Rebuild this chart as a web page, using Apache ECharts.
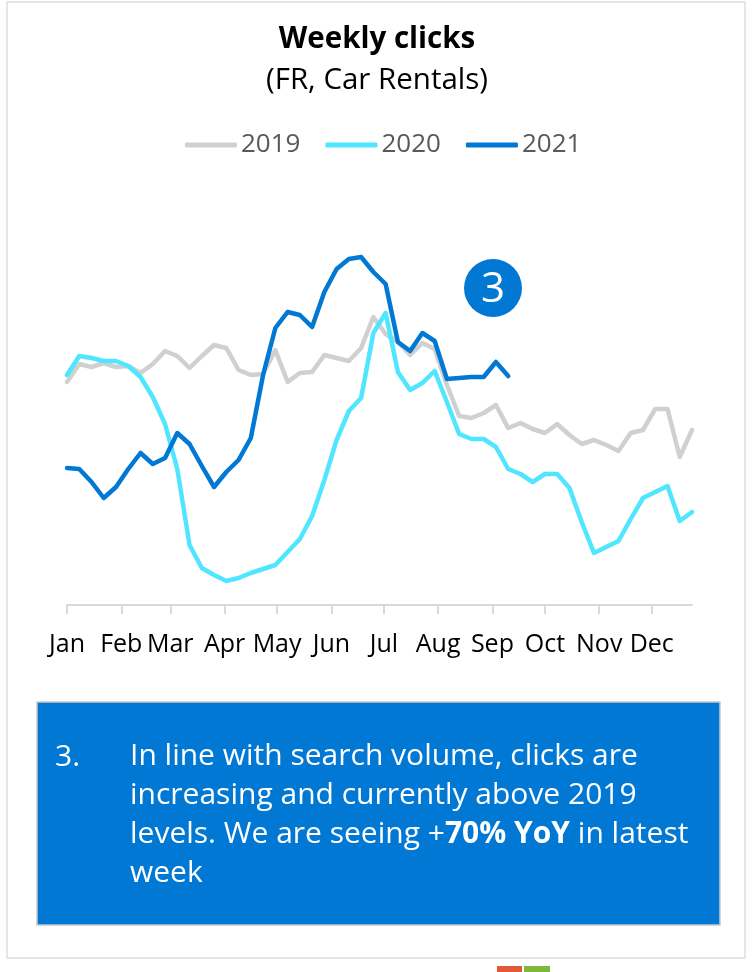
<!DOCTYPE html>
<html>
<head>
<meta charset="utf-8">
<script src="https://cdn.jsdelivr.net/npm/echarts@6/dist/echarts.min.js"></script>
<style>
  html, body { margin: 0; padding: 0; background: #fff; }
  #chart { width: 754px; height: 972px; }
</style>
</head>
<body>
<div id="chart"></div>
<script>
// week start, as day of year
const weekDays = [0, 7, 14, 21, 28, 35, 42, 49, 56, 63, 70, 77, 84, 91, 98, 105, 112, 119, 126, 133,
  140, 147, 154, 161, 168, 175, 182, 189, 196, 203, 210, 217, 224, 231, 238, 245, 252, 259, 266, 273,
  280, 287, 294, 301, 308, 315, 322, 329, 336, 343, 350, 357];

// month tick positions (day of year) and their labels
const monthDays = [0, 31, 59, 90, 120, 151, 181, 212, 243, 273, 304, 334];
const monthNames = ["Jan", "Feb", "Mar", "Apr", "May", "Jun", "Jul", "Aug", "Sep", "Oct", "Nov", "Dec"];

// weekly clicks (relative index)
const clicks2019 = [223, 241, 238, 242, 238, 239, 232, 241, 254, 249, 237, 249, 260, 257, 235, 230, 231, 255, 223, 232,
  233, 250, 247, 244, 257, 288, 271, 263, 250, 262, 256, 220, 189, 187, 192, 200, 177, 182, 176, 172,
  181, 170, 161, 165, 160, 154, 172, 175, 196, 196, 148, 175];
const clicks2020 = [230, 249, 247, 244, 244, 239, 228, 208, 181, 136, 60, 37, 30, 24, 27, 32, 36, 40, 53, 66,
  89, 125, 165, 194, 207, 272, 292, 233, 215, 222, 234, 203, 171, 166, 166, 158, 136, 131, 123, 131,
  131, 117, 83, 52, 58, 64, 86, 107, 113, 119, 84, 93];
const clicks2021 = [137, 136, 123, 107, 118, 136, 152, 141, 147, 172, 161, 139, 118, 133, 145, 167, 230, 277, 293, 290,
  278, 313, 336, 346, 348, 333, 321, 263, 254, 272, 264, 226, 227, 228, 228, 243, 229];

const seriesNames = ["2019", "2020", "2021"];
const seriesColors = ["#D0D0D0", "#50E6FF", "#0078D4"];
const seriesValues = [clicks2019, clicks2020, clicks2021];

const FONT = "Open Sans";

const chart = echarts.init(document.getElementById("chart"));

chart.setOption({
  animation: false,
  textStyle: { fontFamily: FONT },
  title: [
    {
      text: "Weekly clicks",
      left: "center",
      top: 17,
      textStyle: { fontFamily: FONT, fontSize: 29.5, fontWeight: "bold", color: "#000", lineHeight: 36 },
    },
    {
      text: "(FR, Car Rentals)",
      left: "center",
      top: 58,
      textStyle: { fontFamily: FONT, fontSize: 29.5, fontWeight: "normal", color: "#000", lineHeight: 36 },
    },
  ],
  legend: {
    top: 127,
    left: 180,
    icon: "roundRect",
    itemWidth: 52,
    itemHeight: 5,
    itemGap: 25,
    textStyle: { fontFamily: FONT, fontSize: 26, color: "#595959", padding: [0, 0, 0, -1] },
    data: seriesNames,
  },
  grid: { left: 67, right: 62, top: 205, bottom: 367 },
  xAxis: {
    type: "value",
    min: 0,
    max: 357,
    splitLine: { show: false },
    axisLine: { show: true, lineStyle: { color: "#D9D9D9", width: 2 } },
    axisTick: { show: true, length: 9, customValues: monthDays, lineStyle: { color: "#D9D9D9", width: 2 } },
    axisLabel: {
      customValues: monthDays,
      margin: 27,
      fontFamily: FONT,
      fontSize: 25,
      color: "#000",
      formatter: (v) => monthNames[monthDays.indexOf(v)],
    },
  },
  yAxis: {
    type: "value",
    min: 0,
    max: 400,
    show: false,
    splitLine: { show: false },
  },
  series: seriesNames.map((name, i) => ({
    name,
    type: "line",
    symbol: "none",
    color: seriesColors[i],
    lineStyle: { width: 4.5, color: seriesColors[i], cap: "round", join: "round" },
    data: seriesValues[i].map((v, k) => [weekDays[k], v]),
  })),
  graphic: [
    // page frame
    { type: "rect", shape: { x: 7, y: 2, width: 738, height: 956 }, style: { fill: "none", stroke: "#E6E6E6", lineWidth: 2 }, silent: true },
    // callout marker
    { type: "circle", shape: { cx: 493, cy: 288, r: 29 }, style: { fill: "#0078D4" } },
    {
      type: "text", x: 493, y: 290,
      style: { text: "3", fill: "#fff", font: `42px "${FONT}"`, align: "center", verticalAlign: "middle" },
    },
    // commentary box
    { type: "rect", shape: { x: 37, y: 702, width: 683, height: 223 }, style: { fill: "#0078D4", stroke: "#C8C8C8", lineWidth: 1.5 } },
    {
      type: "text", x: 55, y: 757,
      style: { text: "3.", fill: "#fff", font: `30px "${FONT}"`, verticalAlign: "middle" },
    },
    {
      type: "text", x: 130, y: 737,
      style: {
        text: "In line with search volume, clicks are\nincreasing and currently above 2019\nlevels. We are seeing +{b|70% YoY} in latest\nweek",
        fill: "#fff",
        font: `30px "${FONT}"`,
        lineHeight: 39,
        rich: { b: { fontFamily: FONT, fontSize: 30, fontWeight: "bold", fill: "#fff", lineHeight: 39 } },
      },
    },
    // small slide artifacts at the bottom
    { type: "rect", shape: { x: 497, y: 966, width: 25, height: 6 }, style: { fill: "#E05A3A" } },
    { type: "rect", shape: { x: 524, y: 966, width: 26, height: 6 }, style: { fill: "#7DB83A" } },
  ],
});
</script>
</body>
</html>
